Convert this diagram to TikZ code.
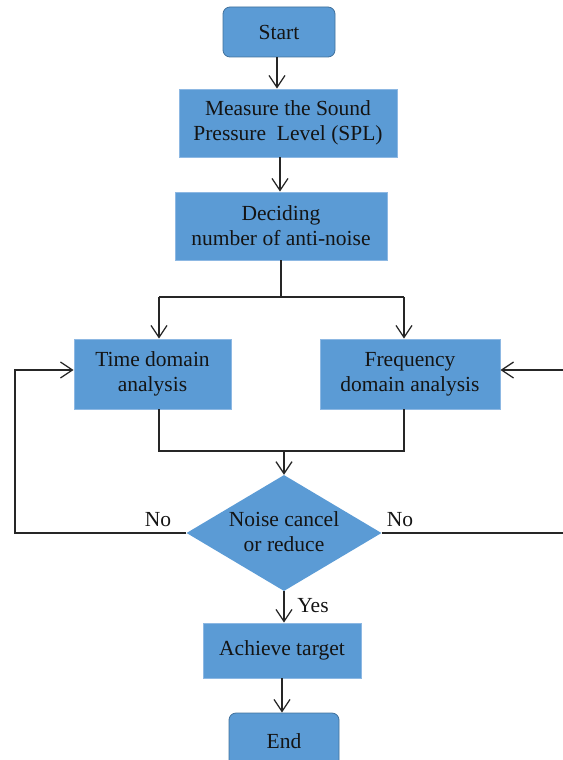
\documentclass[tikz,border=0pt]{standalone}
\usepackage{fontspec}
\setmainfont{Liberation Serif}
\usetikzlibrary{arrows.meta,shapes.geometric}
\definecolor{boxblue}{HTML}{5B9BD5}
\definecolor{boxedge}{HTML}{8DB8E3}
\definecolor{roundedge}{HTML}{41719C}
\definecolor{txt}{HTML}{141414}
\tikzset{
  every node/.style={font=\fontsize{21.5}{25}\selectfont},
  proc/.style={rectangle, fill=boxblue, draw=boxedge, line width=0.8pt, inner sep=0pt, align=center, text=txt},
  term/.style={rectangle, rounded corners=7pt, fill=boxblue, draw=roundedge, line width=0.8pt, inner sep=0pt, align=center, text=txt},
  decide/.style={diamond, fill=boxblue, draw=none, inner sep=0pt},
  lbl/.style={text=txt, align=center, inner sep=0pt},
  conn/.style={draw=black!85, line width=1.3pt},
  arr/.style={conn, -{Straight Barb[length=12pt,width=16pt]}}
}
\begin{document}
\begin{tikzpicture}[x=1pt,y=-1pt]
\useasboundingbox (0,0) rectangle (562,760);
% nodes
\node[term, minimum width=112pt, minimum height=50pt] (start) at (279,32) {Start};
\node[proc, minimum width=218pt, minimum height=68pt] (measure) at (288,123) {Measure the Sound\\Pressure\ \ Level (SPL)};
\node[proc, minimum width=212pt, minimum height=68pt] (deciding) at (281,226) {Deciding\\number of anti-noise};
\node[proc, minimum width=157pt, minimum height=70pt] (time) at (152.5,374) {Time domain\\analysis};
\node[proc, minimum width=180pt, minimum height=70pt] (freq) at (410,374) {Frequency\\domain analysis};
\node[decide, minimum width=195pt, minimum height=116pt] (dec) at (284,533) {};
\node[lbl] (dectext) at (284,532) {Noise cancel\\or reduce};
\node[proc, minimum width=158pt, minimum height=55pt] (achieve) at (282,650.5) {Achieve target};
\node[term, minimum width=110pt, minimum height=56pt] (end) at (284,741) {End};
% labels
\node[lbl] (nol) at (158,520) {No};
\node[lbl] (nor) at (400,520) {No};
\node[lbl] (yes) at (313,606) {Yes};
% helper coordinates
\coordinate (split) at (281,297);
\coordinate (tl) at (159,297);
\coordinate (tr) at (404,297);
\coordinate (merge) at (284,451);
\coordinate (lloop) at (15,533);
\coordinate (rloop) at (564,533);
% connectors
\draw[arr] (start.south -| 277,0) -- (measure.north -| 277,0);
\draw[arr] (measure.south -| 280,0) -- (deciding.north -| 280,0);
\draw[conn] (deciding.south) -- (split);
\draw[conn] (tl) -- (tr);
\draw[arr] (tl) -- (tl |- time.north);
\draw[arr] (tr) -- (tr |- freq.north);
\draw[conn] (tl |- time.south) |- (merge) -| (tr |- freq.south);
\draw[arr] (merge) -- (dec.north);
\draw[arr] (dec.west) -- (lloop) |- ([yshift=4pt]time.west);
\draw[arr] (dec.east) -- (rloop) |- ([yshift=4pt]freq.east);
\draw[arr] (dec.south) -- (achieve.north -| dec.south);
\draw[arr] (achieve.south -| 282,0) -- (end.north -| 282,0);
\end{tikzpicture}
\end{document}
